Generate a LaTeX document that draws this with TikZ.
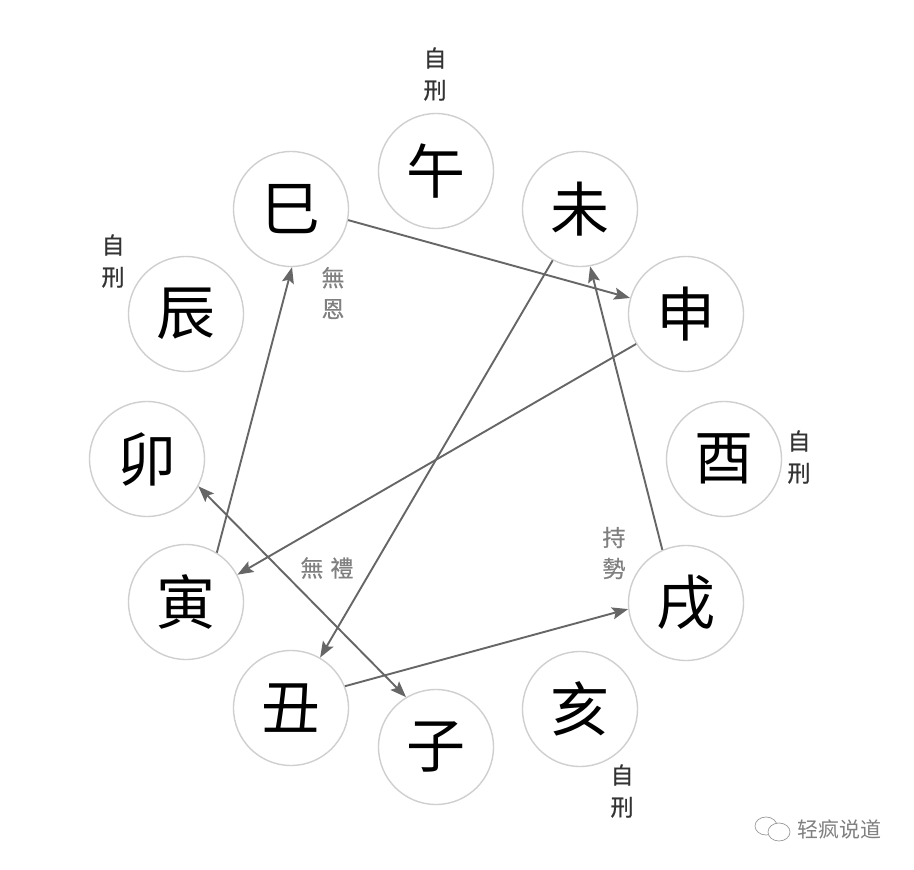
\documentclass[tikz,border=0pt]{standalone}
\usepackage{fontspec}
\newfontfamily\cjk{Noto Sans CJK TC}
\newfontfamily\cjkb{Noto Sans CJK TC}[FakeBold=0.6]
\newfontfamily\cjksc{Noto Sans CJK SC}
\usetikzlibrary{arrows.meta}
\definecolor{ringgray}{HTML}{CFCFCF}
\definecolor{arrowgray}{HTML}{666666}
\definecolor{labelgray}{HTML}{808080}
\definecolor{textdark}{HTML}{333333}
\begin{document}
\begin{tikzpicture}[x=1pt,y=-1pt,
  zhi/.style={circle, draw=ringgray, line width=1.4pt, minimum size=115pt, inner sep=0pt,
    font=\cjk\fontsize{59}{59}\selectfont, text=black},
  selfpun/.style={align=center, inner sep=0pt, text=textdark,
    font=\cjkb\fontsize{23}{32}\selectfont},
  graylbl/.style={align=center, inner sep=0pt, text=labelgray,
    font=\cjkb\fontsize{23}{31}\selectfont},
  rel/.style={draw=arrowgray, line width=1.9pt,
    -{Stealth[length=16pt,width=12pt,inset=3pt]}},
  both/.style={draw=arrowgray, line width=1.9pt,
    {Stealth[length=16pt,width=12pt,inset=3pt]}-{Stealth[length=16pt,width=12pt,inset=3pt]}},
  wmark/.style={draw=labelgray!80, line width=0.7pt, fill=white}
]
\useasboundingbox (0,0) rectangle (914,870);
\fill[white] (0,0) rectangle (914,870);

% twelve branches
\node[zhi] (wu)   at (436,171) {午};
\node[zhi] (wei)  at (580,209) {未};
\node[zhi] (shen) at (686,314) {申};
\node[zhi] (you)  at (724,459) {酉};
\node[zhi] (xu)   at (686,603) {戌};
\node[zhi] (hai)  at (580,709) {亥};
\node[zhi] (zi)   at (436,747) {子};
\node[zhi] (chou) at (291,708) {丑};
\node[zhi] (yin)  at (186,602) {寅};
\node[zhi] (mao)  at (147,459) {卯};
\node[zhi] (chen) at (186,314) {辰};
\node[zhi] (si)   at (291,209) {巳};

% self-punishment labels
\node[selfpun] (lwu)   at (435,74)  {自\\刑};
\node[selfpun] (lchen) at (113,261) {自\\刑};
\node[selfpun] (lyou)  at (799,457) {自\\刑};
\node[selfpun] (lhai)  at (622,791) {自\\刑};

% relation labels
\node[graylbl] (lwuen)  at (333,293) {無\\恩};
\node[graylbl] (lshi)   at (614,553) {持\\勢};
\node[graylbl] (lwuli)  at (327,568) {無\hspace{7pt}禮};

% relations
\draw[rel] (si.-11)    -- (shen.164);
\draw[rel] (shen.-149) -- (yin.28);
\draw[rel] (yin.58)    -- (si.-89);
\draw[rel] (wei.-118)  -- (chou.60);
\draw[rel] (chou.22)   -- (xu.-174);
\draw[rel] (xu.114)    -- (wei.-80);
\draw[both] (mao.-28)  -- (zi.121);

% watermark
\draw[wmark] (766,826) ellipse (11pt and 9pt);
\draw[wmark] (779,832) ellipse (11pt and 9pt);
\node[inner sep=0pt, text=labelgray, font=\cjksc\fontsize{21}{21}\selectfont, anchor=west] (wm) at (797,830) {轻疯说道};
\end{tikzpicture}
\end{document}
